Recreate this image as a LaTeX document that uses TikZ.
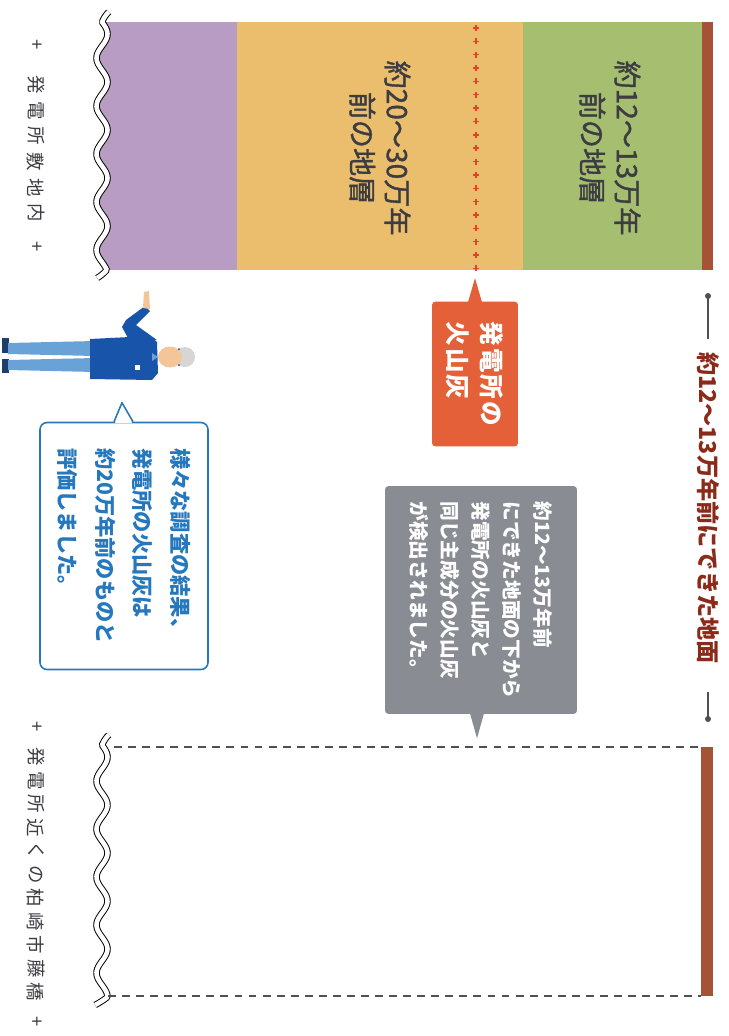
\documentclass[tikz,border=0pt]{standalone}
\usepackage{fontspec}
\setmainfont{Noto Sans CJK JP}
\newfontfamily\midfont{Noto Sans CJK JP}[FakeBold=1.3]
\usetikzlibrary{calc}

\definecolor{layerpurple}{RGB}{184,156,196}
\definecolor{layerorange}{RGB}{234,190,108}
\definecolor{layergreen}{RGB}{166,190,112}
\definecolor{soilbrown}{RGB}{166,82,54}
\definecolor{ashred}{RGB}{226,66,42}
\definecolor{ashcol}{RGB}{228,96,56}
\definecolor{notegray}{RGB}{138,140,148}
\definecolor{talkblue}{RGB}{38,120,190}
\definecolor{groundred}{RGB}{140,42,26}
\definecolor{linegray}{RGB}{80,80,80}
\definecolor{textgray}{RGB}{60,60,66}
% worker colours
\definecolor{jacketcol}{RGB}{24,84,170}
\definecolor{trousercol}{RGB}{104,162,214}
\definecolor{shoecol}{RGB}{30,62,112}
\definecolor{skincol}{RGB}{242,198,152}
\definecolor{haircol}{RGB}{214,214,214}

\begin{document}
\begin{tikzpicture}[x=0.02cm, y=-0.02cm,
    declare function={tornx(\t,\a,\b)=102+5.5*sin(7.5*(\t-\a))+1.2*max(0,\a-\t)-1.2*max(0,\t-\b);},
    layertext/.style={rotate=-90, align=center, text=textgray, font=\midfont\fontsize{16}{20}\selectfont},
    sitetext/.style={rotate=-90, inner sep=0pt, text=textgray, font=\fontsize{10.5}{12}\selectfont},
    groundtext/.style={rotate=-90, inner sep=0pt, text=groundred, font=\bfseries\fontsize{13.2}{16}\selectfont},
    ashnote/.style={rotate=-90, fill=ashcol, rounded corners=2pt, text=white, align=left,
        font=\bfseries\fontsize{14}{19}\selectfont\addfontfeature{LetterSpace=8},
        minimum width=2.9cm, minimum height=1.72cm},
    findnote/.style={rotate=-90, fill=notegray, rounded corners=2pt, text=white, align=left,
        font=\bfseries\fontsize{11.2}{17.6}\selectfont, minimum width=4.56cm, minimum height=3.84cm},
    talknote/.style={rotate=-90, draw=talkblue, line width=0.9pt, fill=white, rounded corners=4pt,
        text=talkblue, align=left, font=\bfseries\fontsize{12.1}{21.5}\selectfont,
        minimum width=4.94cm, minimum height=3.36cm},
    wave/.style={draw=black, line width=0.55pt, double=white, double distance=2.6pt},
    gauge/.style={linegray, line width=0.6pt},
    dashline/.style={linegray, line width=0.6pt, dash pattern=on 4.5pt off 3.5pt}]
    \fill[white] (0,0) rectangle (729,1036);
    \useasboundingbox (0,0) rectangle (729,1036);

    % strata inside the site
    \fill[layerpurple] (100,22) rectangle (237,270);
    \fill[layerorange] (237,22) rectangle (523,270);
    \fill[layergreen] (523,22) rectangle (702,270);
    \fill[soilbrown] (702,22) rectangle (713,270);
    % ash horizon
    \foreach \k in {0,...,18}
        \draw[ashred, line width=0.8pt] (476,28+13.35*\k) +(-3,0) -- +(3,0) +(0,-3) -- +(0,3);
    % torn edge
    \fill[white] (60,10) -- plot[domain=12:278, samples=150] ({tornx(\x,22,270)},\x) -- (60,280) -- cycle;
    \draw[wave] plot[domain=12:278, samples=150] ({tornx(\x,22,270)},\x);

    % outcrop near the site
    \draw[wave] plot[domain=735:1005, samples=150] ({tornx(\x,745,997)},\x);
    \draw[dashline] (114,747) -- (701,747);
    \draw[dashline] (108,996) -- (701,996);
    \fill[soilbrown] (701,747) rectangle (713,996);

    % layer labels
    \node[layertext] (young) at (610,148) {約12～13万年\\前の地層};
    \node[layertext] (old) at (380,148) {約20～30万年\\前の地層};

    % place names
    \node[sitetext] (sa0) at (36,45) {+};
    \foreach \c [count=\i] in {発,電,所,敷,地,内}
        \node[sitetext] (sa\i) at (36,59.4+25.6*\i) {\c};
    \node[sitetext] (sa7) at (36,247) {+};
    \node[sitetext] (sb0) at (36,727) {+};
    \foreach \c [count=\i] in {発,電,所,近,く,の,柏,崎,市,藤,橋}
        \node[sitetext] (sb\i) at (36,733.5+23.5*\i) {\c};
    \node[sitetext] (sb12) at (36,1022) {+};

    % ground surface gauge
    \node[groundtext] (ground) at (708,508) {約12～13万年前にできた地面};
    \coordinate (gtop) at (708,296);
    \coordinate (gbot) at (708,719);
    \draw[gauge] (gtop) -- ($(ground.west)+(0,-13)$);
    \draw[gauge] ($(ground.east)+(0,28)$) -- (gbot);
    \fill[linegray] (gtop) circle (3) (gbot) circle (3);

    % callouts
    \node[ashnote] (ash) at (475,374) {発電所の\\火山灰};
    \fill[ashcol] ($(ash.west)+(-7,1)$) -- ($(ash.west)+(0,-23)$) -- ($(ash.west)+(7,1)$) -- cycle;

    \node[findnote] (find) at (481,600) {約12～13万年前\\にできた地面の下から\\発電所の火山灰と\\同じ主成分の火山灰\\が検出されました。};
    \fill[notegray] ($(find.east)+(-11,-1)$) -- ($(find.east)+(-4,24)$) -- ($(find.east)+(3,-1)$) -- cycle;

    \node[talknote] (talk) at (124,546) {様々な調査の結果、\\発電所の火山灰は\\約20万年前のものと\\評価しました。};
    \fill[white] ($(talk.west)+(-9,1.5)$) -- ($(talk.west)+(-2,-19)$) -- ($(talk.west)+(8,1.5)$) -- cycle;
    \draw[talkblue, line width=0.9pt, line join=round] ($(talk.west)+(-10,0)$) -- ($(talk.west)+(-2,-19)$) -- ($(talk.west)+(9,0)$);

    % worker
    \fill[shoecol] (2,338) rectangle (9,353);
    \fill[shoecol] (2,359) rectangle (9,373);
    \fill[trousercol] (8,343) -- (95,341) -- (95,356) -- (8,354) -- cycle;
    \fill[trousercol] (8,360) -- (95,358) -- (95,372) -- (8,370) -- cycle;
    \fill[jacketcol] (90,339) -- (150,336) -- (157,342) -- (158,373) -- (152,380) -- (90,379) -- cycle;
    \fill[jacketcol] (128,338) -- (122,327) -- (126,320) -- (145,306) -- (150,311) -- (136,325) -- (157,340) -- cycle;
    \fill[skincol] (143,308) -- (144,292) -- (149,291) -- (150,309) -- cycle;
    \fill[trousercol] (152,353) -- (158,357) -- (152,361) -- cycle;
    \fill[white] (135,365) rectangle (140,370);
    \fill[haircol] (185,357) circle (10);
    \fill[skincol] (170,357) ellipse (12 and 10.5);
    \fill[shoecol] (179,349) circle (1) (179,365) circle (1);
\end{tikzpicture}
\end{document}
